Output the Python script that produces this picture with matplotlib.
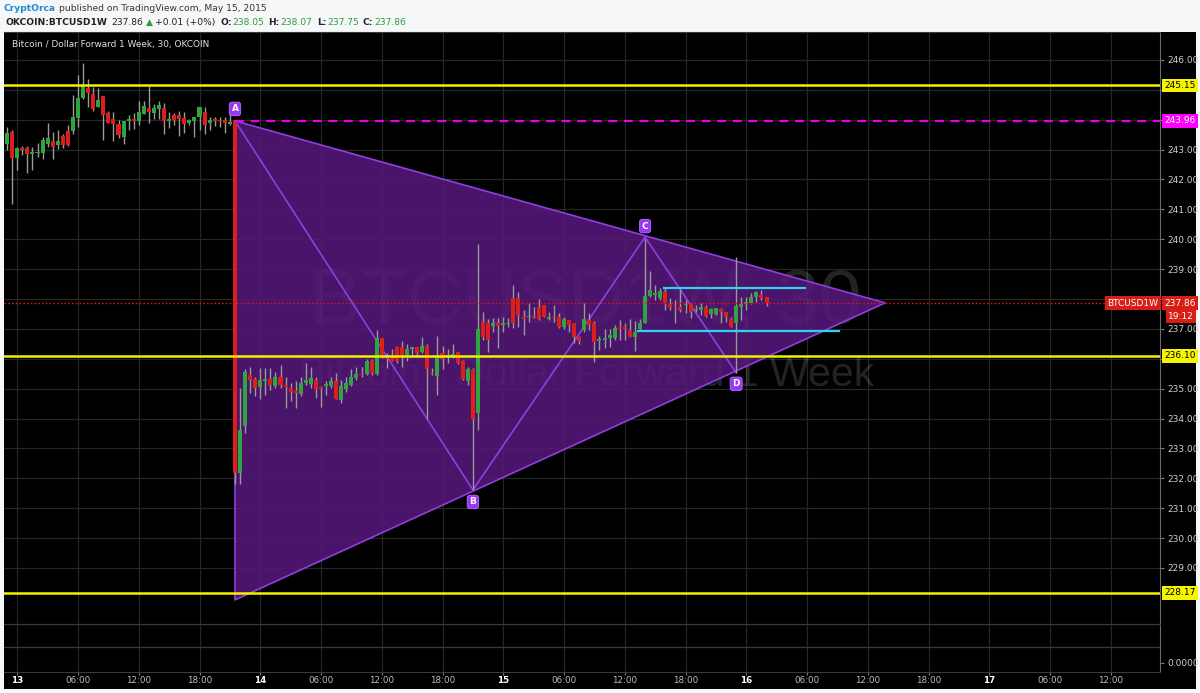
import matplotlib.pyplot as plt
from matplotlib.patches import Polygon, Rectangle
import matplotlib.transforms as mtransforms
import numpy as np

# 30 minute candles, first bar = 12th 23:00, hours counted from 13th 00:00
first_hour = -1.0
bar_hours = 0.5

opens = [243.19, 243.60, 242.73, 243.04, 243.04, 242.84, 242.87, 242.90, 243.19, 243.27,
         243.14, 243.46, 243.62, 243.63, 244.07, 244.72, 245.07, 244.86, 244.42, 244.80,
         244.22, 244.01, 243.86, 243.43, 243.97, 244.01, 243.97, 244.19, 244.40, 244.22,
         244.35, 244.40, 243.95, 244.16, 244.16, 244.05, 243.88, 243.97, 244.08, 244.24,
         243.88, 243.99, 243.98, 243.99, 243.86, 243.96, 232.19, 233.75, 235.44, 235.32,
         235.04, 235.27, 235.32, 235.09, 235.38, 235.13, 235.01, 234.89, 234.82, 235.18,
         235.16, 235.29, 235.07, 235.09, 235.09, 235.26, 234.62, 234.98, 235.13, 235.35,
         235.49, 235.48, 235.93, 235.48, 236.69, 236.05, 236.02, 236.38, 236.38, 236.13,
         236.34, 236.40, 236.21, 236.43, 235.52, 235.43, 236.19, 236.07, 236.10, 236.24,
         235.94, 235.26, 235.63, 234.20, 237.22, 237.19, 237.11, 237.21, 237.13, 237.15,
         238.02, 238.02, 237.41, 237.39, 237.43, 237.74, 237.80, 237.32, 237.39, 237.39,
         237.05, 237.30, 237.19, 236.72, 236.96, 237.30, 237.19, 236.60, 236.63, 236.68,
         236.68, 237.05, 237.02, 236.96, 236.74, 236.99, 237.21, 238.10, 238.14, 238.02,
         238.25, 237.83, 237.77, 237.74, 237.79, 237.83, 237.63, 237.63, 237.72, 237.50,
         237.50, 237.66, 237.58, 237.32, 237.19, 237.72, 237.83, 237.88, 238.06, 238.13,
         238.05]
highs = [243.77, 243.66, 243.10, 243.12, 243.12, 243.08, 243.21, 243.41, 243.88, 243.60,
         243.66, 243.52, 243.82, 244.84, 245.50, 245.89, 245.35, 245.09, 245.06, 244.80,
         244.30, 244.24, 243.99, 243.97, 244.16, 244.22, 244.64, 244.64, 245.13, 244.53,
         244.64, 244.57, 244.26, 244.22, 244.30, 244.26, 244.01, 244.10, 244.44, 244.44,
         244.10, 244.10, 244.08, 244.08, 244.19, 243.98, 235.01, 235.65, 235.71, 235.38,
         235.70, 235.70, 235.70, 235.57, 235.80, 235.40, 235.20, 235.24, 235.40, 235.85,
         235.74, 235.40, 235.09, 235.24, 235.40, 235.52, 235.29, 235.38, 235.65, 235.74,
         235.72, 236.00, 236.00, 236.97, 236.69, 236.19, 236.32, 236.44, 236.58, 236.50,
         236.41, 236.40, 236.72, 236.50, 235.68, 236.77, 236.43, 236.32, 236.50, 236.24,
         235.96, 235.72, 235.68, 239.84, 237.58, 237.32, 237.35, 237.35, 237.39, 237.35,
         238.47, 238.25, 237.63, 237.86, 237.74, 237.99, 237.80, 237.58, 237.80, 237.52,
         237.41, 237.30, 237.19, 236.76, 237.86, 237.52, 237.28, 236.76, 236.99, 236.99,
         237.13, 237.30, 237.19, 237.32, 237.28, 237.32, 240.00, 238.92, 238.47, 238.36,
         238.36, 238.02, 237.97, 238.32, 237.97, 237.83, 237.80, 237.86, 237.80, 237.69,
         237.69, 237.69, 237.58, 237.41, 239.42, 238.08, 238.08, 238.19, 238.28, 238.30,
         238.07]
lows = [242.99, 241.18, 242.32, 242.82, 242.21, 242.32, 242.76, 242.70, 243.08, 242.68,
        243.01, 243.04, 243.12, 243.52, 243.77, 244.68, 244.44, 244.30, 244.42, 243.32,
        243.88, 243.30, 243.38, 243.19, 243.66, 243.68, 243.82, 244.19, 243.90, 244.01,
        244.01, 243.52, 243.71, 243.82, 243.46, 243.57, 243.82, 243.43, 243.66, 243.52,
        243.66, 243.79, 243.77, 243.57, 243.82, 231.80, 231.80, 233.50, 234.85, 234.74,
        234.65, 234.79, 234.96, 235.01, 235.01, 234.35, 234.60, 234.35, 234.76, 235.13,
        235.01, 234.68, 234.37, 234.79, 235.01, 234.65, 234.51, 234.90, 235.09, 235.29,
        235.40, 235.46, 235.46, 235.46, 236.02, 235.68, 235.91, 235.85, 235.72, 235.93,
        236.05, 236.05, 236.19, 233.98, 235.46, 234.79, 235.65, 235.85, 236.02, 235.83,
        235.29, 235.13, 231.61, 233.60, 236.63, 236.24, 236.91, 236.35, 236.91, 237.07,
        237.02, 237.07, 236.80, 237.24, 237.35, 237.30, 237.39, 237.30, 237.24, 237.02,
        236.99, 236.91, 236.52, 236.49, 236.91, 236.96, 235.90, 236.29, 236.35, 236.41,
        236.63, 236.63, 236.63, 236.74, 236.27, 236.96, 237.19, 238.08, 237.97, 237.97,
        237.63, 237.63, 237.21, 237.58, 237.52, 237.35, 237.58, 237.47, 237.39, 237.35,
        237.47, 237.19, 237.24, 237.05, 235.51, 237.30, 237.63, 237.83, 237.91, 237.97,
        237.75]
closes = [243.57, 242.73, 243.04, 242.99, 242.84, 242.93, 242.92, 243.32, 243.37, 243.08,
          243.29, 243.14, 243.16, 244.08, 244.71, 245.13, 244.88, 244.36, 244.66, 244.16,
          243.90, 243.86, 243.48, 243.96, 244.03, 243.96, 244.24, 244.46, 244.24, 244.38,
          244.48, 243.97, 244.01, 243.99, 244.01, 243.86, 243.99, 244.10, 244.44, 243.82,
          243.99, 243.96, 243.94, 243.88, 243.93, 232.19, 233.62, 235.57, 235.29, 235.01,
          235.29, 235.32, 235.13, 235.38, 235.13, 235.04, 234.90, 234.87, 235.20, 235.29,
          235.37, 234.99, 234.98, 235.13, 235.26, 234.65, 235.09, 235.18, 235.40, 235.49,
          235.44, 235.93, 235.52, 236.69, 236.13, 235.99, 235.94, 235.93, 236.13, 236.33,
          236.40, 236.19, 236.42, 235.65, 235.49, 236.07, 235.99, 236.13, 236.16, 235.85,
          235.32, 235.66, 233.98, 237.00, 236.74, 236.63, 237.21, 237.10, 237.19, 237.21,
          237.19, 237.47, 237.33, 237.43, 237.39, 237.32, 237.41, 237.41, 237.35, 237.05,
          237.32, 237.13, 236.72, 236.61, 237.32, 237.13, 236.57, 236.65, 236.68, 236.80,
          237.04, 237.01, 237.00, 236.74, 236.91, 237.21, 238.10, 238.30, 238.18, 238.27,
          237.88, 237.72, 237.72, 237.63, 237.83, 237.58, 237.67, 237.74, 237.43, 237.66,
          237.69, 237.58, 237.39, 237.07, 237.77, 237.83, 237.91, 238.08, 238.24, 238.02,
          237.86]

# ABCD pattern (hours, price) and the triangle around it
pattern_x = [21.5, 45.0, 62.0, 71.0]
pattern_y = [243.96, 231.61, 240.07, 235.53]
pattern_names = ['A', 'B', 'C', 'D']
triangle_x = [21.5, 85.7, 21.5]
triangle_y = [243.96, 237.87, 227.93]

levels = [245.15, 236.10, 228.17]
a_level = 243.96
last_price = 237.86
box_top = (63.9, 77.8, 238.38)
box_bottom = (61.3, 81.2, 236.94)

day_labels = ['13', '14', '15', '16', '17']

W, H = 1200, 693
fig = plt.figure(figsize=(W / 100, H / 100), dpi=100, facecolor='#f6f7f9')

def fx(px):
    return px / W

def fy(py):
    return 1 - py / H

# black chart panel (behind the axes)
panel = Rectangle((fx(4), fy(689)), fx(1192), (689 - 31.5) / H,
                  transform=fig.transFigure, facecolor='black', edgecolor='none',
                  zorder=-10)
fig.add_artist(panel)

ax = fig.add_axes([fx(4), fy(624), fx(1156), (624 - 31.5) / H])
ax2 = fig.add_axes([fx(4), fy(672), fx(1156), 48 / H], sharex=ax)
for a in (ax, ax2):
    a.set_facecolor('none')
    for s in a.spines.values():
        s.set_color('#3a3a3a')
        s.set_linewidth(0.8)
    a.spines['right'].set_color('#6a6a6a')
    a.spines['left'].set_visible(False)

ax.set_xlim(-1.31, 112.86)
ax.set_ylim(227.125, 246.95)

# grid
ticks6 = np.arange(0, 109, 6)
for t in ticks6:
    ax.axvline(t, color='#262626', lw=0.9, zorder=0)
    ax2.axvline(t, color='#262626', lw=0.9, zorder=0)
prices = np.arange(229, 247)
for p in prices:
    ax.axhline(p, color='#262626', lw=0.9, zorder=0)
ax2.axhline(0.52, color='#3a3a3a', lw=0.9)

# watermark
ax.text(0.5035, 0.542, 'BTCUSD1W, 30', transform=ax.transAxes, ha='center', va='center',
        fontsize=55, family='Liberation Sans', color='white', alpha=0.14, zorder=0.5)
ax.text(0.5035, 0.421, 'Bitcoin / Dollar Forward 1 Week', transform=ax.transAxes,
        ha='center', va='center', fontsize=29.5, family='Liberation Sans',
        color='white', alpha=0.14, zorder=0.5)

# triangle
tri = Polygon(list(zip(triangle_x, triangle_y)), closed=True, facecolor='#57187c',
              alpha=0.85, edgecolor='none', zorder=1)
ax.add_patch(tri)
ax.plot(triangle_x + [triangle_x[0]], triangle_y + [triangle_y[0]], color='#8f3fe0',
        lw=1.2, zorder=1.5)
ax.plot(pattern_x, pattern_y, color='#8f3fe0', lw=1.2, zorder=1.5)

# candles
times = first_hour + bar_hours * np.arange(len(opens))
o = np.array(opens)
c = np.array(closes)
up = c >= o
ax.vlines(times, lows, highs, color='#9a9a9a', lw=1.0, zorder=3)
body_h = np.maximum(np.abs(c - o), 0.05)
ax.bar(times, body_h, bottom=np.minimum(o, c), width=0.4,
       color=np.where(up, '#2fa53f', '#dd1f1a'), edgecolor='none', zorder=3.5)

# levels
for lv in levels:
    ax.axhline(lv, color='#f2f200', lw=1.8, zorder=4)
ax.plot([pattern_x[0], 112.86], [a_level, a_level], color='#e600e6', lw=1.6,
        ls=(0, (4, 3)), zorder=4)
ax.axhline(last_price, color='#e01414', lw=1.0, ls=(0, (1.2, 1.5)), zorder=4)
ax.plot(box_top[:2], [box_top[2]] * 2, color='#2ad4f0', lw=1.6, zorder=4)
ax.plot(box_bottom[:2], [box_bottom[2]] * 2, color='#2ad4f0', lw=1.6, zorder=4)

# pattern point labels
offsets = [12, -12, 11, -11]
for px_, py_, nm, off in zip(pattern_x, pattern_y, pattern_names, offsets):
    ax.annotate(nm, (px_, py_), xytext=(0, off * 0.72), textcoords='offset points',
                ha='center', va='center', fontsize=6.5, fontweight='bold', color='white',
                bbox=dict(boxstyle='round,pad=0.25,rounding_size=0.3', fc='#9a36f5',
                          ec='#b66bff', lw=0.6), zorder=6)

# price axis
ax.yaxis.tick_right()
ax.set_yticks(prices)
ax.set_yticklabels(['%.2f' % p for p in prices])
ax.tick_params(axis='y', colors='#7a7a7a', labelcolor='#cfcfcf', labelsize=6.5,
               length=3, pad=2)
ax.tick_params(axis='x', bottom=False, labelbottom=False)

ax2.set_ylim(0, 1)
ax2.yaxis.tick_right()
ax2.set_yticks([0.19])
ax2.set_yticklabels(['0.0000'])
ax2.tick_params(axis='y', colors='#7a7a7a', labelcolor='#cfcfcf', labelsize=6.5,
                length=3, pad=2)
ax2.set_xticks(ticks6)
xlabels = []
for t in ticks6:
    if t % 24 == 0:
        xlabels.append(day_labels[int(t // 24)])
    else:
        xlabels.append('%02d:00' % (t % 24))
ax2.set_xticklabels(xlabels)
ax2.tick_params(axis='x', colors='#7a7a7a', labelcolor='#bdbdbd', labelsize=6.3,
                length=2, pad=1)
for lab, t in zip(ax2.get_xticklabels(), ticks6):
    if t % 24 == 0:
        lab.set_fontweight('bold')
        lab.set_color('white')

# right axis badges; these cover the integer tick labels behind them, as in TradingView
trans = mtransforms.blended_transform_factory(ax.transAxes, ax.transData)
def badge(y, text, fc, tc, x=1.0035, ha='left'):
    ax.text(x, y, text, transform=trans, ha=ha, va='center', fontsize=6.5, color=tc,
            bbox=dict(boxstyle='square,pad=0.25', fc=fc, ec='none'), zorder=7,
            clip_on=False)

covered = [245, 244, 238, 236, 228]
for lab, p in zip(ax.get_yticklabels(), prices):
    if p in covered:
        lab.set_visible(False)

badge(levels[0], '245.15', '#f5f500', 'black')
badge(a_level, '243.96', '#ff00ff', 'white')
badge(levels[1], '236.10', '#f5f500', 'black')
badge(levels[2], '228.17', '#f5f500', 'black')
badge(last_price, '237.86', '#d61e16', 'white')
badge(last_price - 0.45, '19:12', '#d61e16', 'white', x=1.007)
badge(last_price, 'BTCUSD1W', '#d61e16', 'white', x=0.9985, ha='right')

# panel title
fig.text(fx(12), fy(45), 'Bitcoin / Dollar Forward 1 Week, 30, OKCOIN', fontsize=6.4,
         color='#e0e0e0', va='center', ha='left')

# header lines, laid out piece by piece
fig.canvas.draw()
renderer = fig.canvas.get_renderer()

def text_row(x0, y0, parts, size):
    x = x0
    for gap, txt, col, wt in parts:
        x += gap
        t = fig.text(fx(x), fy(y0), txt, fontsize=size, color=col, fontweight=wt,
                     va='center', ha='left')
        x = t.get_window_extent(renderer).x1

green = '#2e9e3a'
dark = '#222222'
text_row(4, 8.5, [(0, 'CryptOrca', '#1f8ad6', 'bold'),
                  (3, 'published on TradingView.com, May 15, 2015', '#333333', 'normal')],
         6.6)
text_row(5, 22.5, [(0, 'OKCOIN:BTCUSD1W', dark, 'bold'), (4, '237.86', dark, 'normal'),
                   (3, '\u25b2', green, 'normal'), (2, '+0.01 (+0%)', dark, 'normal'),
                   (5, 'O:', dark, 'bold'), (1, '238.05', green, 'normal'),
                   (4, 'H:', dark, 'bold'), (1, '238.07', green, 'normal'),
                   (4, 'L:', dark, 'bold'), (1, '237.75', green, 'normal'),
                   (4, 'C:', dark, 'bold'), (1, '237.86', green, 'normal')], 6.6)

fig.savefig('out.png', dpi=100, facecolor=fig.get_facecolor())
